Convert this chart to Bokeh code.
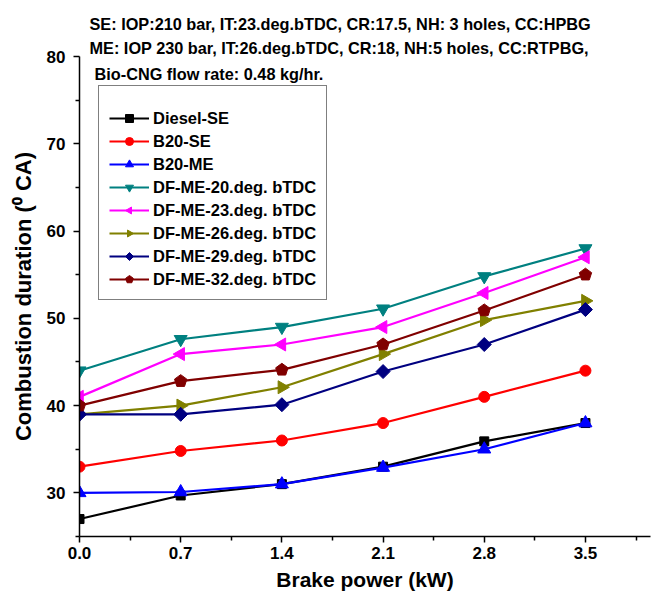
import math
from bokeh.plotting import figure
from bokeh.models import Legend, LegendItem, Label, Range1d, FixedTicker, Title
from bokeh.embed import file_html
from bokeh.resources import INLINE

# ---- data ----
brake_power = [0.0, 0.7, 1.4, 2.1, 2.8, 3.5]
diesel_se = [27.0, 29.7, 31.0, 33.0, 35.9, 38.0]
b20_se = [33.0, 34.8, 36.0, 38.0, 41.0, 44.0]
b20_me = [30.0, 30.1, 31.0, 32.9, 35.0, 38.0]
df_me_20 = [44.0, 47.6, 49.0, 51.1, 54.8, 58.0]
df_me_23 = [41.0, 45.9, 47.0, 49.0, 52.9, 57.0]
df_me_26 = [39.0, 40.0, 42.1, 45.9, 49.8, 52.0]
df_me_29 = [39.0, 39.0, 40.1, 43.9, 47.0, 51.0]
df_me_32 = [40.0, 42.8, 44.1, 47.0, 50.9, 55.0]

series_names = ["Diesel-SE", "B20-SE", "B20-ME", "DF-ME-20.deg. bTDC",
                "DF-ME-23.deg. bTDC", "DF-ME-26.deg. bTDC",
                "DF-ME-29.deg. bTDC", "DF-ME-32.deg. bTDC"]
series_values = [diesel_se, b20_se, b20_me, df_me_20, df_me_23, df_me_26,
                 df_me_29, df_me_32]
series_colors = ["#000000", "#FF0000", "#0000FF", "#008080", "#FF00FF",
                 "#808000", "#000080", "#800000"]
# (marker kind, ngon sides, ngon angle)
series_markers = [("square", 0, 0), ("circle", 0, 0), ("triangle", 0, 0),
                  ("inverted_triangle", 0, 0), ("ngon", 3, math.pi / 2),
                  ("ngon", 3, -math.pi / 2), ("ngon", 4, 0.0),
                  ("ngon", 5, 0.0)]
series_sizes = [9, 11, 13, 13, 7.5, 7.5, 7, 6.5]

x_ticks = [0.0, 0.7, 1.4, 2.1, 2.8, 3.5]
x_minor = [0.35, 1.05, 1.75, 2.45, 3.15, 3.85]
y_ticks = [30, 40, 50, 60, 70, 80]
y_minor = [25, 35, 45, 55, 65, 75]

annotation_lines = [
    "SE: IOP:210 bar, IT:23.deg.bTDC, CR:17.5, NH: 3 holes, CC:HPBG",
    "ME: IOP 230 bar, IT:26.deg.bTDC, CR:18, NH:5 holes, CC:RTPBG,",
    "Bio-CNG flow rate: 0.48 kg/hr.",
]

FONT = "Liberation Sans"

p = figure(width=657, height=595, output_backend="svg", toolbar_location=None,
           x_range=Range1d(0, 3.95), y_range=Range1d(25, 80),
           min_border_left=79, min_border_right=7, min_border_top=56,
           min_border_bottom=59)
p.outline_line_color = None
p.grid.visible = False
p.background_fill_color = "white"
p.border_fill_color = "white"

items = []
for name, vals, col, (mk, nsides, ang), sz in zip(series_names, series_values,
                                                  series_colors, series_markers,
                                                  series_sizes):
    r_line = p.line(brake_power, vals, line_color=col, line_width=2.2)
    if mk == "ngon":
        r_m = p.ngon(brake_power, vals, radius=sz, radius_units="screen", n=nsides,
                     fill_color=col, line_color=col, angle=ang)
    else:
        r_m = p.scatter(brake_power, vals, marker=mk, size=sz,
                        fill_color=col, line_color=col)
    items.append(LegendItem(label=name, renderers=[r_line, r_m]))

legend = Legend(items=items, location=(19, 236))
legend.label_text_font = FONT
legend.label_text_font_style = "bold"
legend.label_text_font_size = "16.5px"
legend.label_text_color = "black"
legend.label_height = 20
legend.glyph_height = 20
legend.glyph_width = 40
legend.spacing = 3
legend.padding = 10
legend.label_standoff = 4
legend.border_line_color = "black"
legend.border_line_width = 1
legend.background_fill_color = "white"
legend.background_fill_alpha = 1
legend.title = " "
legend.title_text_font_size = "9px"
legend.title_standoff = 2
p.add_layout(legend, "center")

for ax in (p.xaxis[0], p.yaxis[0]):
    ax.axis_line_width = 1.5
    ax.major_tick_line_width = 1.5
    ax.minor_tick_line_width = 1.5
    ax.major_tick_out = 6
    ax.major_tick_in = 0
    ax.minor_tick_out = 4
    ax.minor_tick_in = 0
    ax.major_label_text_font = FONT
    ax.major_label_text_font_style = "bold"
    ax.major_label_text_font_size = "17px"
    ax.major_label_text_color = "black"
    ax.axis_label_text_font = FONT
    ax.axis_label_text_font_style = "bold"
    ax.axis_label_text_color = "black"

p.xaxis.axis_label_text_font_size = "21px"
p.yaxis.axis_label_text_font_size = "22px"
p.xaxis.major_label_standoff = 4
p.yaxis.major_label_standoff = 8
p.xaxis.ticker = FixedTicker(ticks=x_ticks, minor_ticks=x_minor)
p.yaxis.ticker = FixedTicker(ticks=y_ticks, minor_ticks=y_minor)
p.xaxis.major_label_overrides = {t: f"{t:.1f}" for t in x_ticks}
p.xaxis.axis_label = "Brake power (kW)"
p.yaxis.axis_label = "Combustion duration (\u2070 CA)"
p.xaxis.axis_label_standoff = 6
p.yaxis.axis_label_standoff = 8

# first two header lines as titles above the frame (first added is nearest)
p.add_layout(Title(text=annotation_lines[1], align="left", offset=10, standoff=0,
                   text_font=FONT, text_font_style="bold", text_font_size="16.3px",
                   text_color="black"), "above")
p.add_layout(Title(text=annotation_lines[0], align="left", offset=10, standoff=7,
                   text_font=FONT, text_font_style="bold", text_font_size="16.3px",
                   text_color="black"), "above")
# third line sits inside the frame, just under the top
p.add_layout(Label(x=0, y=80, x_offset=15, y_offset=-17, text=annotation_lines[2],
                   text_font=FONT, text_font_style="bold",
                   text_font_size="16.3px", text_baseline="middle",
                   text_color="black"))

open("out.html", "w").write(file_html(p, INLINE))
